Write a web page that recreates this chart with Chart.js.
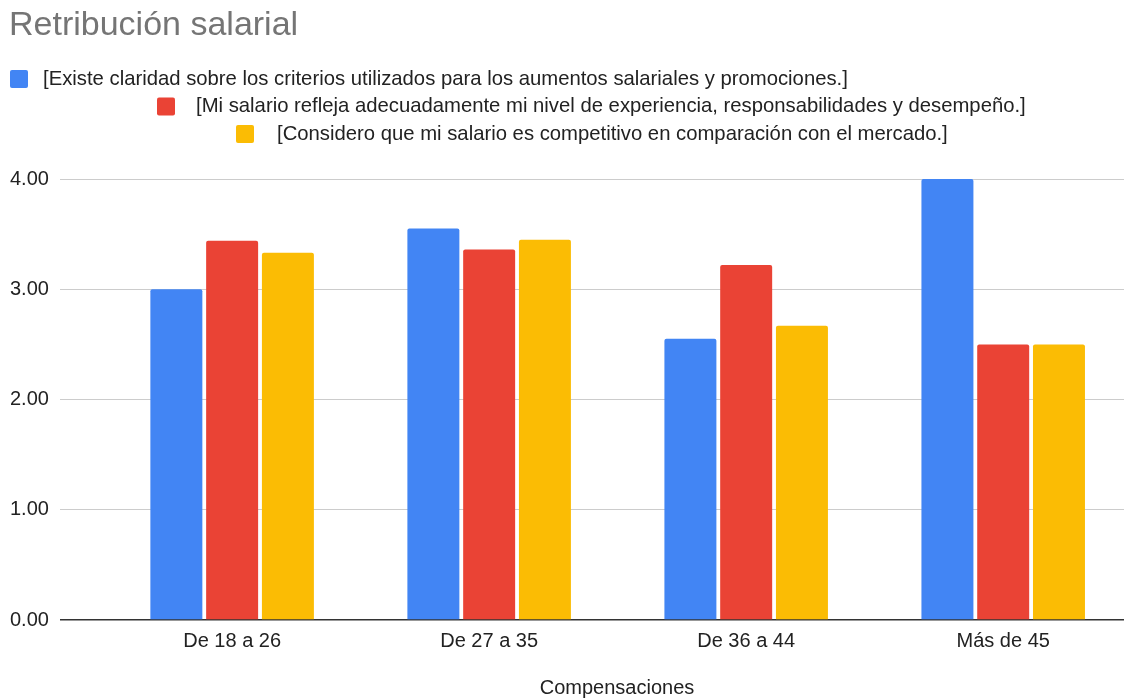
<!DOCTYPE html>
<html lang="es">

<head>
    <meta charset="utf-8">
    <meta content="width=device-width, initial-scale=1.0" name="viewport">
    <style>
        html, body { margin: 0; padding: 0; background: #fff; }
        #wrap { width: 1126px; height: 700px; }
    </style>
</head>

<body>
    <div id="wrap">
        <canvas id="salaryChart"></canvas>
    </div>
    <script src="https://cdn.jsdelivr.net/npm/chart.js"></script>
    <script>
        const chartTitle = 'Retribución salarial';
        const axisTitle = 'Compensaciones';
        const categories = ['De 18 a 26', 'De 27 a 35', 'De 36 a 44', 'Más de 45'];
        const seriesNames = [
            '[Existe claridad sobre los criterios utilizados para los aumentos salariales y promociones.]',
            '[Mi salario refleja adecuadamente mi nivel de experiencia, responsabilidades y desempeño.]',
            '[Considero que mi salario es competitivo en comparación con el mercado.]'
        ];
        const claridad = [3.00, 3.55, 2.55, 4.00];
        const refleja = [3.44, 3.36, 3.22, 2.50];
        const competitivo = [3.33, 3.45, 2.67, 2.50];
        const yTicks = [0, 1, 2, 3, 4];
        const colors = ['#4285F4', '#EA4335', '#FBBC04'];

        const font = 'Arial, "Liberation Sans", sans-serif';

        // legend rows are not centred in the original, so they are drawn by hand
        const legendRows = [
            { box: 10, text: 43, y: 79 },
            { box: 157, text: 196, y: 106.5 },
            { box: 236, text: 277, y: 134 }
        ];

        const headerPlugin = {
            id: 'header',
            afterDraw(chart) {
                const ctx = chart.ctx;
                ctx.save();
                ctx.textBaseline = 'middle';
                ctx.fillStyle = '#757575';
                ctx.font = '34px ' + font;
                ctx.textAlign = 'left';
                ctx.fillText(chartTitle, 9, 26);

                ctx.font = '20.3px ' + font;
                chart.data.datasets.forEach((ds, i) => {
                    const row = legendRows[i];
                    ctx.fillStyle = ds.backgroundColor;
                    ctx.beginPath();
                    ctx.roundRect(row.box, row.y - 9, 18, 18, 2);
                    ctx.fill();
                    ctx.fillStyle = '#222';
                    ctx.fillText(ds.label, row.text, row.y);
                });

                ctx.font = '20px ' + font;
                ctx.textAlign = 'center';
                ctx.fillText(axisTitle, 617, 688);
                ctx.restore();
            }
        };

        const seriesValues = [claridad, refleja, competitivo];

        new Chart(document.getElementById('salaryChart'), {
            type: 'bar',
            data: {
                datasets: seriesValues.map((vals, i) => ({
                    label: seriesNames[i],
                    data: vals.map((v, j) => ({ x: j, y: v })),
                    backgroundColor: colors[i],
                    borderRadius: { topLeft: 2, topRight: 2 },
                    borderSkipped: 'bottom',
                    categoryPercentage: 0.651,
                    barPercentage: 0.932
                }))
            },
            plugins: [headerPlugin],
            options: {
                responsive: true,
                maintainAspectRatio: false,
                animation: false,
                layout: {
                    padding: { top: 179, left: -1, right: 2, bottom: 38 }
                },
                plugins: {
                    legend: { display: false },
                    title: { display: false },
                    tooltip: { enabled: false }
                },
                scales: {
                    x: {
                        type: 'linear',
                        min: -0.67,
                        max: 3.47,
                        offset: false,
                        afterBuildTicks: axis => { axis.ticks = categories.map((c, i) => ({ value: i })); },
                        grid: { display: false, drawTicks: false },
                        border: { display: false },
                        ticks: {
                            autoSkip: false,
                            maxRotation: 0,
                            padding: 9,
                            color: '#222',
                            font: { family: font, size: 20 },
                            callback: v => categories[v]
                        }
                    },
                    y: {
                        min: 0,
                        max: 4,
                        afterBuildTicks: axis => { axis.ticks = yTicks.map(v => ({ value: v })); },
                        grid: {
                            drawTicks: false,
                            color: c => c.tick.value === 0 ? '#333' : '#ccc',
                            lineWidth: c => c.tick.value === 0 ? 1.5 : 1
                        },
                        border: { display: false },
                        ticks: {
                            padding: 11,
                            color: '#222',
                            font: { family: font, size: 20 },
                            callback: v => v.toFixed(2)
                        }
                    }
                }
            }
        });
    </script>
</body>

</html>
